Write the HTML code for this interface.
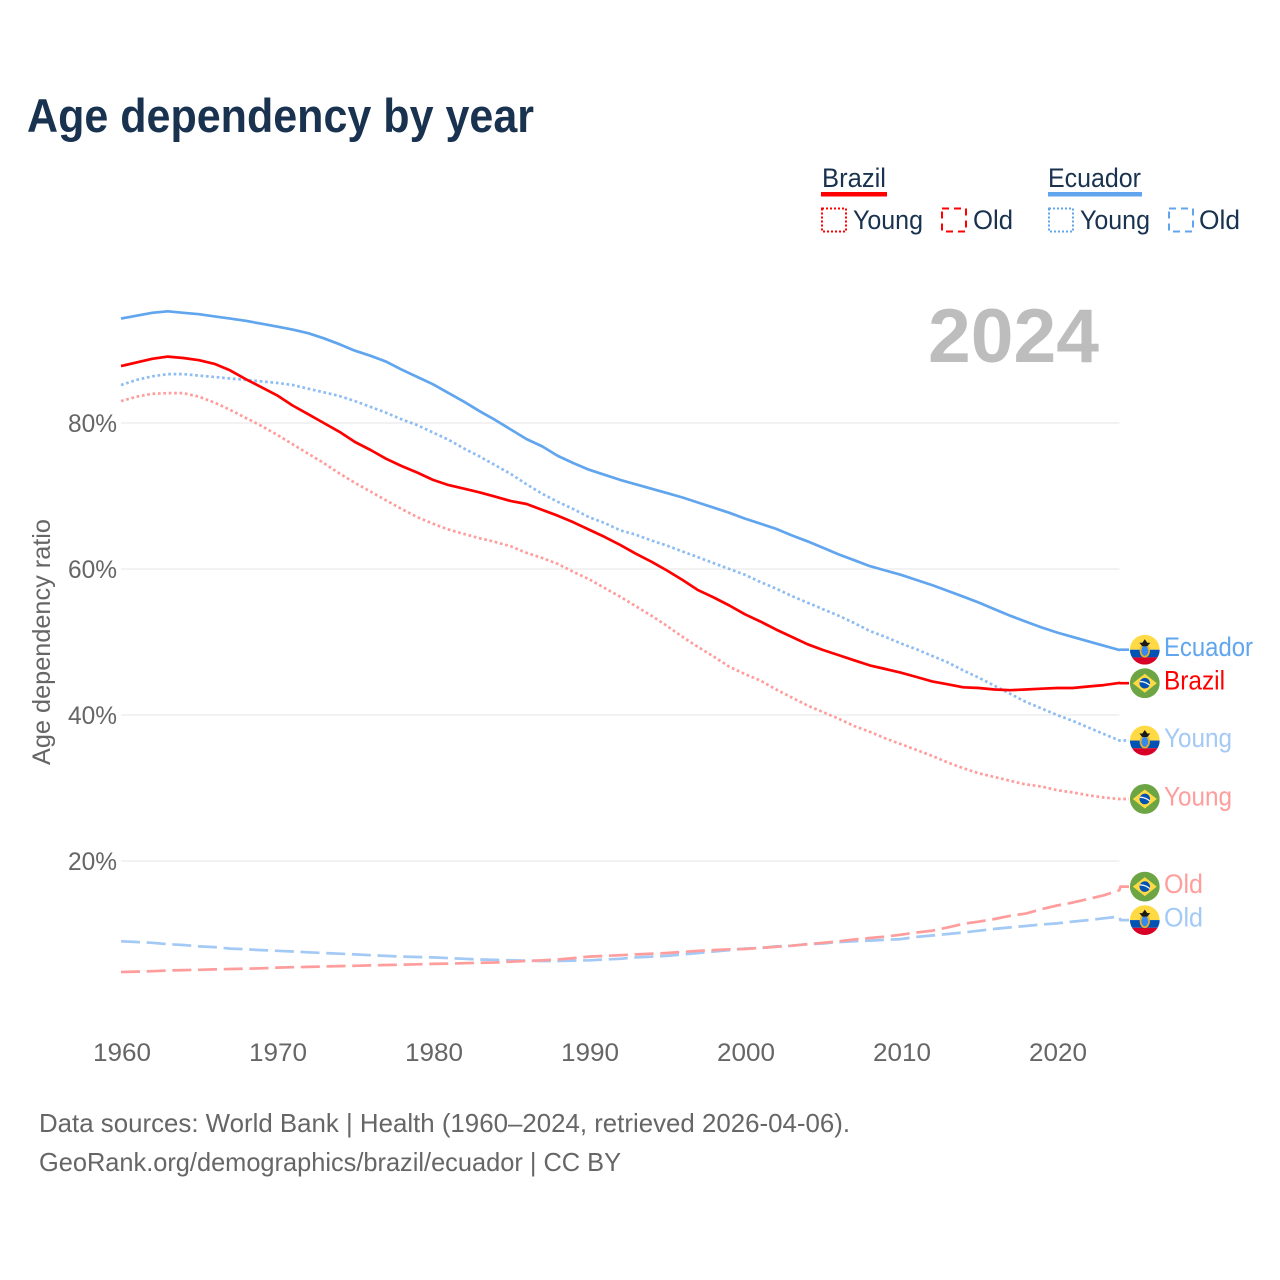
<!DOCTYPE html>
<html lang="en">
<head>
<meta charset="utf-8">
<title>Age dependency by year</title>
<style>
html,body{margin:0;padding:0;background:#fff;}
svg{display:block;}
text{font-family:"Liberation Sans",sans-serif;}
</style>
</head>
<body>
<svg id="chart" xmlns="http://www.w3.org/2000/svg" width="1280" height="1280" viewBox="0 0 1280 1280">
  <defs>
    <clipPath id="flag-clip"><circle cx="0" cy="0" r="14.9"/></clipPath>
  </defs>
  <rect x="0" y="0" width="1280" height="1280" fill="#fff"/>
  <text x="27" y="132" font-size="47" font-weight="700" fill="#18324f" textLength="507" lengthAdjust="spacingAndGlyphs">Age dependency by year</text>

  <g>
    <g>
      <text x="822" y="187" font-size="27" fill="#18324f" textLength="64" lengthAdjust="spacingAndGlyphs">Brazil</text>
      <rect x="821" y="192" width="66" height="4.5" fill="#ff0000"/>
    </g>
    <g>
      <rect x="822" y="208.5" width="24" height="23" fill="none" stroke="#ff0000" stroke-width="2" stroke-dasharray="2 2"/>
      <text x="853" y="229" font-size="27" fill="#18324f" textLength="70" lengthAdjust="spacingAndGlyphs">Young</text>
    </g>
    <g>
      <rect x="942" y="208.5" width="24" height="23" fill="none" stroke="#ff0000" stroke-width="2" stroke-dasharray="7 5"/>
      <text x="973" y="229" font-size="27" fill="#18324f" textLength="40" lengthAdjust="spacingAndGlyphs">Old</text>
    </g>
    <g>
      <text x="1048" y="187" font-size="27" fill="#18324f" textLength="93" lengthAdjust="spacingAndGlyphs">Ecuador</text>
      <rect x="1048" y="192" width="94" height="4.5" fill="#60a5ee"/>
    </g>
    <g>
      <rect x="1049" y="208.5" width="24" height="23" fill="none" stroke="#60a5ee" stroke-width="2" stroke-dasharray="2 2"/>
      <text x="1080" y="229" font-size="27" fill="#18324f" textLength="70" lengthAdjust="spacingAndGlyphs">Young</text>
    </g>
    <g>
      <rect x="1169" y="208.5" width="24" height="23" fill="none" stroke="#60a5ee" stroke-width="2" stroke-dasharray="7 5"/>
      <text x="1199" y="229" font-size="27" fill="#18324f" textLength="41" lengthAdjust="spacingAndGlyphs">Old</text>
    </g>
  </g>

  <text x="928" y="362" font-size="76" font-weight="700" fill="#bdbdbd" textLength="171" lengthAdjust="spacingAndGlyphs">2024</text>
  <text transform="translate(50,765) rotate(-90)" x="0" y="0" font-size="25" fill="#666" textLength="246" lengthAdjust="spacingAndGlyphs">Age dependency ratio</text>

  <g id="grid"></g>
  <g id="yticks"></g>
  <g id="xticks"></g>
  <g id="series"></g>
  <g id="endlabels"></g>

  <text x="39" y="1132" font-size="26" fill="#666" textLength="811" lengthAdjust="spacingAndGlyphs">Data sources: World Bank | Health (1960–2024, retrieved 2026-04-06).</text>
  <text x="39" y="1171" font-size="26" fill="#666" textLength="582" lengthAdjust="spacingAndGlyphs">GeoRank.org/demographics/brazil/ecuador | CC BY</text>
</svg>
<script>
const startYear = 1960;
const xTickYears = [1960, 1970, 1980, 1990, 2000, 2010, 2020];
const yTickValues = [20, 40, 60, 80];

const ecuadorTotal = [94.3,94.7,95.1,95.3,95.1,94.9,94.6,94.3,94.0,93.6,
  93.2,92.8,92.3,91.6,90.8,89.9,89.2,88.4,87.3,86.3,
  85.3,84.1,82.9,81.6,80.4,79.1,77.8,76.8,75.5,74.5,
  73.6,72.9,72.2,71.6,71.0,70.4,69.8,69.1,68.4,67.7,
  66.9,66.2,65.5,64.6,63.8,62.9,62.0,61.2,60.4,59.8,
  59.2,58.5,57.8,57.0,56.2,55.4,54.5,53.6,52.8,52.0,
  51.3,50.7,50.1,49.5,48.9];
const brazilTotal = [87.8,88.3,88.8,89.1,88.9,88.6,88.1,87.2,86.0,84.9,
  83.8,82.4,81.2,80.0,78.8,77.4,76.3,75.1,74.1,73.2,
  72.2,71.5,71.0,70.5,69.9,69.3,68.9,68.1,67.3,66.4,
  65.4,64.4,63.3,62.1,61.0,59.8,58.5,57.1,56.1,55.0,
  53.8,52.8,51.7,50.7,49.7,48.9,48.2,47.5,46.8,46.3,
  45.8,45.2,44.6,44.2,43.8,43.7,43.5,43.4,43.5,43.6,
  43.7,43.7,43.9,44.1,44.4];
const ecuadorYoung = [85.2,85.9,86.4,86.7,86.7,86.5,86.3,86.1,85.9,85.7,
  85.5,85.2,84.7,84.2,83.7,83.0,82.2,81.4,80.5,79.7,
  78.7,77.7,76.5,75.4,74.2,73.0,71.6,70.3,69.2,68.2,
  67.1,66.3,65.3,64.7,63.9,63.2,62.4,61.6,60.8,60.0,
  59.2,58.2,57.3,56.3,55.4,54.5,53.6,52.6,51.5,50.7,
  49.8,49.0,48.1,47.2,46.1,45.1,44.0,42.9,41.8,40.9,
  40.0,39.2,38.3,37.4,36.5];
const brazilYoung = [83.0,83.6,84.0,84.1,84.1,83.6,82.8,81.8,80.7,79.6,
  78.4,77.1,75.8,74.5,73.1,71.8,70.6,69.4,68.2,67.1,
  66.2,65.4,64.8,64.2,63.7,63.1,62.2,61.5,60.7,59.6,
  58.6,57.4,56.2,54.9,53.6,52.2,50.7,49.3,48.0,46.6,
  45.6,44.7,43.5,42.4,41.3,40.4,39.5,38.5,37.7,36.8,
  36.0,35.2,34.4,33.5,32.7,32.0,31.5,31.0,30.5,30.2,
  29.7,29.4,29.0,28.7,28.5];
const ecuadorOld = [9.0,8.9,8.8,8.6,8.5,8.3,8.2,8.0,7.9,7.8,
  7.7,7.6,7.5,7.4,7.3,7.2,7.1,7.0,6.9,6.85,
  6.8,6.7,6.6,6.5,6.45,6.4,6.35,6.3,6.3,6.35,
  6.4,6.5,6.6,6.8,6.9,7.0,7.2,7.4,7.6,7.8,
  8.0,8.1,8.3,8.4,8.6,8.7,8.9,9.0,9.1,9.2,
  9.3,9.6,9.8,10.0,10.2,10.45,10.7,10.9,11.1,11.3,
  11.45,11.7,11.9,12.15,12.4];
const brazilOld = [4.8,4.85,4.9,5.0,5.05,5.1,5.15,5.2,5.25,5.3,
  5.4,5.45,5.5,5.55,5.6,5.65,5.7,5.75,5.8,5.85,
  5.9,5.95,6.0,6.05,6.1,6.2,6.3,6.4,6.5,6.7,
  6.9,7.0,7.1,7.2,7.3,7.4,7.55,7.7,7.8,7.9,
  7.95,8.1,8.25,8.4,8.6,8.8,9.0,9.25,9.45,9.65,
  9.9,10.2,10.45,10.9,11.4,11.7,12.05,12.5,12.8,13.4,
  13.9,14.3,14.8,15.3,16.0];

const NS = 'http://www.w3.org/2000/svg';
function xScale(year) { return 121 + (year - 1960) * 15.6; }
function yScale(value) { return 1007 - value * 7.3; }

function make(tag, parent, props) {
  const el = document.createElementNS(NS, tag);
  for (const k in props) el.setAttribute(k, props[k]);
  parent.appendChild(el);
  return el;
}

const gridG = document.getElementById('grid');
const yTickG = document.getElementById('yticks');
const xTickG = document.getElementById('xticks');
const seriesG = document.getElementById('series');
const endG = document.getElementById('endlabels');

yTickValues.forEach(function (v) {
  const line = make('line', gridG, {x1: xScale(1960), x2: xScale(2024), y1: yScale(v), y2: yScale(v), stroke: '#e6e6e6', 'stroke-width': 1});
  
  
  const t = make('text', yTickG, {x: 117, y: yScale(v) + 9, 'text-anchor': 'end', 'font-size': 25, fill: '#666', textLength: 49, lengthAdjust: 'spacingAndGlyphs'});
  t.textContent = v + '%';
  
  
});

xTickYears.forEach(function (yr) {
  const t = make('text', xTickG, {x: xScale(yr) - 28, y: 1061, 'font-size': 25, fill: '#666', textLength: 58, lengthAdjust: 'spacingAndGlyphs'});
  t.textContent = String(yr);
  
  
});

const seriesList = [
  {key: 'ecuador-old', values: ecuadorOld, color: '#a3c9f5', line: '#a3c9f5', dash: '19 6.7', label: 'Old', width: 39, country: 'ecuador'},
  {key: 'brazil-old', values: brazilOld, color: '#ff9d9d', line: '#ff9d9d', dash: '19 6.7', label: 'Old', width: 39, country: 'brazil'},
  {key: 'brazil-young', values: brazilYoung, color: '#ff9d9d', line: '#ff9d9d', dash: '2.7 2.7', label: 'Young', width: 68, country: 'brazil'},
  {key: 'ecuador-young', values: ecuadorYoung, color: '#a3c9f5', line: '#8dbdf3', dash: '2.7 2.7', label: 'Young', width: 68, country: 'ecuador'},
  {key: 'brazil-total', values: brazilTotal, color: '#ff0000', line: '#ff0000', dash: '', label: 'Brazil', width: 61, country: 'brazil'},
  {key: 'ecuador-total', values: ecuadorTotal, color: '#60a5ee', line: '#60a5ee', dash: '', label: 'Ecuador', width: 89, country: 'ecuador'}
];

/* spread colliding end labels symmetrically around their midpoint */
const minLabelGap = 33.5;
const ordered = seriesList.slice().sort(function (a, b) {
  return yScale(a.values[a.values.length - 1]) - yScale(b.values[b.values.length - 1]);
});
ordered.forEach(function (s) {
  s.labelY = yScale(s.values[s.values.length - 1]);
});
for (let i = 1; i < ordered.length; i++) {
  const gap = ordered[i].labelY - ordered[i - 1].labelY;
  if (gap < minLabelGap) {
    const shift = (minLabelGap - gap) / 2;
    ordered[i - 1].labelY -= shift;
    ordered[i].labelY += shift;
  }
}

function drawFlag(parent, country, cy) {
  const g = make('g', parent, {transform: 'translate(1144.8,' + cy + ')', 'clip-path': 'url(#flag-clip)'});
  if (country === 'brazil') {
    make('rect', g, {x: -15, y: -15, width: 30, height: 30, fill: '#6da544'});
    make('polygon', g, {points: '-12,0 0,-9.5 12,0 0,9.5', fill: '#ffda44'});
    make('circle', g, {cx: 0, cy: 0, r: 5.3, fill: '#0052b4'});
    make('path', g, {d: 'M-5,-1.6 Q0,-2 5,2', fill: 'none', stroke: '#f0f0f0', 'stroke-width': 1.3});
  } else {
    make('rect', g, {x: -15, y: -15, width: 30, height: 15, fill: '#ffda44'});
    make('rect', g, {x: -15, y: 0, width: 30, height: 7.7, fill: '#0052b4'});
    make('rect', g, {x: -15, y: 7.7, width: 30, height: 7.3, fill: '#d80027'});
    make('ellipse', g, {cx: 0, cy: 1, rx: 3.3, ry: 5, fill: '#338af3'});
    make('ellipse', g, {cx: 0, cy: 1, rx: 4.3, ry: 6, fill: 'none', stroke: '#e6b32e', 'stroke-width': 1.8});
    make('polygon', g, {points: '-5.5,-7 -2.5,-7 0,-10.5 2.5,-7 5.5,-7 2.5,-3.5 -2.5,-3.5', fill: '#1a1a1a'});
  }
  return g;
}

seriesList.forEach(function (s) {
  const pts = s.values.map(function (v, i) {
    return xScale(startYear + i).toFixed(1) + ',' + yScale(v).toFixed(1);
  });
  const endX = xScale(startYear + s.values.length - 1);
  const d = 'M' + pts.join('L') + 'L' + (endX + 1).toFixed(1) + ',' + s.labelY.toFixed(1) + 'L1129,' + s.labelY.toFixed(1);
  const props = {d: d, fill: 'none', stroke: s.line, 'stroke-width': 2.7, 'stroke-linejoin': 'round'};
  if (s.dash) props['stroke-dasharray'] = s.dash;
  const path = make('path', seriesG, props);
  
  

  const flag = drawFlag(endG, s.country, s.labelY);
  
  

  const label = make('text', endG, {x: 1164, y: s.labelY + 6.3, 'font-size': 27, fill: s.color, textLength: s.width, lengthAdjust: 'spacingAndGlyphs'});
  label.textContent = s.label;
  
  
});
</script>
</body>
</html>
